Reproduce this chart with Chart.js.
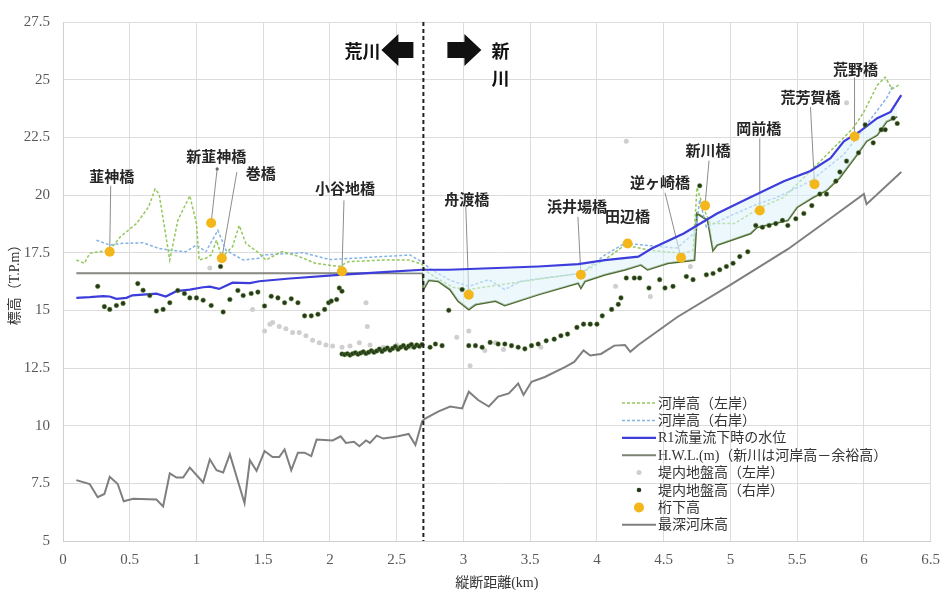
<!DOCTYPE html>
<html>
<head>
<meta charset="utf-8">
<script src="https://cdn.jsdelivr.net/npm/chart.js@4/dist/chart.umd.min.js"></script>
<style>
  html, body { margin: 0; padding: 0; background: #fff; }
  canvas { display: block; }
</style>
</head>
<body>
<canvas id="profile" width="950" height="590"></canvas>
<script>
// 縦断距離(km) / 標高(T.P.m)
const leftBankKm = [0.10, 0.16, 0.20, 0.35, 0.43, 0.55, 0.64, 0.69, 0.72, 0.80, 0.86, 0.95, 1.00, 1.02, 1.07, 1.11, 1.15, 1.19, 1.27, 1.32, 1.37, 1.47, 1.52, 1.64, 1.77, 1.89, 2.07, 2.14, 2.39, 2.59, 2.69,
  2.72, 2.80, 2.92, 3.04, 3.50, 3.88, 4.06, 4.21, 4.40, 4.65, 4.72, 4.75, 4.80, 4.85, 5.03, 5.23, 5.40, 5.60, 5.80, 5.92, 6.00, 6.10, 6.16, 6.21, 6.27];
const leftBankEl = [17.18, 17.04, 17.47, 17.61, 18.19, 18.76, 19.47, 20.26, 20.04, 17.18, 18.90, 19.97, 18.76, 17.18, 17.26, 17.40, 18.04, 17.30, 17.76, 18.68, 17.90, 17.47, 17.18, 17.55, 17.33, 17.04, 16.90, 17.11, 17.18, 17.18, 17.00,
  16.70, 16.40, 16.00, 15.90, 16.30, 16.61, 17.20, 17.83, 17.60, 17.47, 17.60, 20.33, 19.40, 18.76, 18.76, 19.47, 19.90, 21.04, 22.20, 22.90, 23.60, 24.76, 25.11, 24.60, 24.80];

const rightBankKm = [0.25, 0.35, 0.43, 0.60, 0.72, 0.80, 0.92, 1.00, 1.07, 1.16, 1.22, 1.35, 1.47, 1.50, 1.80, 2.00, 2.30, 2.60, 2.69,
  2.75, 2.90, 3.04, 3.19, 3.31, 3.43, 3.60, 3.88, 4.06, 4.21, 4.40, 4.60, 4.74, 4.77, 4.82, 5.00, 5.20, 5.35, 5.60, 5.85, 6.00, 6.17, 6.22];
const rightBankEl = [18.04, 17.83, 17.90, 17.93, 17.68, 17.61, 17.54, 17.83, 17.54, 18.47, 17.61, 17.18, 17.26, 17.40, 17.50, 17.20, 17.30, 17.40, 17.10,
  16.80, 16.30, 16.04, 16.33, 15.90, 16.26, 16.40, 16.60, 17.40, 17.90, 17.80, 17.70, 18.40, 19.80, 18.60, 19.10, 19.60, 19.90, 20.60, 21.76, 22.90, 24.20, 24.76];

const r1Km = [0.10, 0.20, 0.30, 0.35, 0.40, 0.475, 0.52, 0.60, 0.70, 0.77, 0.85, 0.95, 1.05, 1.10, 1.17, 1.27, 1.40, 1.47, 1.70, 2.07, 2.40, 2.69,
  2.89, 3.56, 3.86, 4.06, 4.31, 4.41, 4.65, 4.90, 5.15, 5.40, 5.60, 5.75, 5.85, 5.97, 6.10, 6.20, 6.28];
const r1El = [15.54, 15.57, 15.62, 15.60, 15.50, 15.54, 15.65, 15.68, 15.72, 15.60, 15.83, 15.90, 16.00, 16.03, 15.93, 16.20, 16.18, 16.26, 16.38, 16.54, 16.66, 16.76,
  16.76, 16.90, 17.00, 17.18, 17.33, 17.68, 18.33, 19.20, 19.90, 20.60, 21.04, 21.60, 22.33, 22.76, 23.33, 23.60, 24.33];

const hwlKm = [0.10, 2.695, 2.70, 2.74, 2.81, 2.90, 2.96, 3.04, 3.09, 3.24, 3.31, 3.56, 3.86, 3.88, 3.91, 4.06, 4.21, 4.33, 4.38, 4.53, 4.73, 4.75, 4.83, 4.87, 4.90,
  5.15, 5.20, 5.43, 5.50, 5.62, 5.72, 5.82, 5.95, 6.02, 6.10, 6.17, 6.25];
const hwlEl = [16.61, 16.61, 15.90, 16.30, 16.26, 15.90, 15.40, 15.04, 15.25, 15.40, 15.21, 15.68, 16.18, 15.97, 16.26, 16.54, 16.76, 16.97, 16.76, 17.04, 17.18, 19.20, 18.90, 17.60, 17.83,
  18.33, 18.60, 18.90, 19.47, 19.90, 20.20, 20.76, 21.76, 22.33, 22.60, 23.18, 23.40];

const groundLeftKm = [1.10, 1.42, 1.51, 1.55, 1.57, 1.62, 1.67, 1.72, 1.77, 1.82, 1.87, 1.92, 1.97, 2.02, 2.09, 2.15, 2.22, 2.27, 2.28, 2.30, 2.40, 2.50, 2.60,
  2.95, 3.04, 3.05, 3.16, 3.24, 3.30, 3.58, 4.14, 4.22, 4.40, 4.70, 5.87];
const groundLeftEl = [16.83, 15.04, 14.10, 14.40, 14.47, 14.30, 14.20, 14.04, 14.04, 13.90, 13.70, 13.60, 13.50, 13.45, 13.40, 13.45, 13.60, 15.33, 14.30, 13.50, 13.40, 13.50, 13.40,
  13.83, 14.10, 12.60, 13.26, 13.60, 13.30, 13.40, 16.04, 22.33, 15.60, 16.90, 24.00];

const groundRightKm = [0.26, 0.31, 0.35, 0.40, 0.45, 0.56, 0.60, 0.65, 0.70, 0.75, 0.80, 0.86, 0.91, 0.95, 1.00, 1.05, 1.11, 1.18, 1.20, 1.25, 1.31, 1.35, 1.41, 1.46,
  1.51, 1.56, 1.61, 1.66, 1.71, 1.76, 1.81, 1.86, 1.91, 1.96, 1.99, 2.01, 2.05, 2.07, 2.09,
  2.09, 2.11, 2.13, 2.15, 2.17, 2.19, 2.21, 2.23, 2.25, 2.27, 2.29, 2.31, 2.33, 2.35, 2.37, 2.39, 2.41, 2.43, 2.45, 2.47, 2.49, 2.51, 2.53, 2.55, 2.57, 2.59, 2.61, 2.63, 2.65, 2.67, 2.69,
  2.75, 2.79, 2.84, 2.89, 2.99, 3.04, 3.09, 3.14, 3.20, 3.26, 3.31, 3.36, 3.41, 3.46, 3.51, 3.56, 3.62, 3.68, 3.73, 3.78, 3.85, 3.90, 3.95, 4.00, 4.04, 4.11, 4.16,
  4.18, 4.22, 4.28, 4.32, 4.39, 4.47, 4.51, 4.57, 4.67, 4.72, 4.77, 4.82, 4.87, 4.92, 4.97, 5.02, 5.07, 5.13, 5.19, 5.24, 5.29, 5.34, 5.39,
  5.43, 5.49, 5.55, 5.61, 5.67, 5.72, 5.79, 5.82, 5.87, 5.96, 6.01, 6.07, 6.13, 6.16, 6.22, 6.25];
const groundRightEl = [16.04, 15.16, 15.04, 15.21, 15.30, 16.16, 15.87, 15.64, 14.97, 15.04, 15.33, 15.86, 15.73, 15.54, 15.54, 15.44, 15.21, 16.90, 14.93, 15.47, 15.86, 15.64, 15.73, 15.79,
  15.19, 15.61, 15.54, 15.33, 15.50, 15.33, 14.76, 14.76, 14.83, 15.04, 15.33, 15.40, 15.47, 15.97, 15.83,
  13.11, 13.08, 13.12, 13.06, 13.12, 13.16, 13.10, 13.15, 13.20, 13.13, 13.18, 13.25, 13.18, 13.24, 13.32, 13.22, 13.30, 13.37, 13.27, 13.35, 13.43, 13.31, 13.40, 13.47, 13.36, 13.45, 13.52, 13.40, 13.50, 13.44, 13.52,
  13.40, 13.54, 13.47, 15.00, 15.90, 13.47, 13.47, 13.40, 13.61, 13.54, 13.54, 13.47, 13.40, 13.33, 13.47, 13.54, 13.68, 13.75, 13.90, 13.97, 14.26, 14.40, 14.40, 14.40, 14.76, 15.04, 15.26,
  15.54, 16.40, 16.40, 16.40, 15.97, 16.33, 15.97, 16.04, 16.47, 16.33, 20.40, 16.54, 16.60, 16.76, 16.90, 17.04, 17.33, 17.54, 18.68, 18.60, 18.68, 18.76, 18.90,
  18.68, 18.97, 19.20, 19.54, 20.04, 20.04, 20.60, 21.00, 21.47, 21.83, 23.04, 22.26, 22.83, 22.83, 23.33, 23.10];

const bridgeNames = ['韮神橋', '新韮神橋', '巻橋', '小谷地橋', '舟渡橋', '浜井場橋', '田辺橋', '逆ヶ崎橋', '新川橋', '岡前橋', '荒芳賀橋', '荒野橋'];
const bridgeKm = [0.35, 1.11, 1.19, 2.09, 3.04, 3.88, 4.23, 4.63, 4.81, 5.22, 5.63, 5.93];
const bridgeEl = [17.54, 18.79, 17.26, 16.69, 15.68, 16.54, 17.90, 17.28, 19.54, 19.33, 20.47, 22.54];

const bedKm = [0.10, 0.20, 0.26, 0.31, 0.35, 0.41, 0.455, 0.525, 0.70, 0.75, 0.80, 0.85, 0.90, 0.95, 1.05, 1.10, 1.15, 1.20, 1.25, 1.36, 1.40, 1.45, 1.51, 1.57, 1.62, 1.66, 1.71, 1.76, 1.81, 1.86, 1.90,
  2.02, 2.08, 2.12, 2.18, 2.22, 2.27, 2.30, 2.35, 2.40, 2.465, 2.51, 2.59, 2.64, 2.69, 2.71, 2.81, 2.90, 2.99, 3.04, 3.11, 3.19, 3.26, 3.34, 3.41, 3.45, 3.51, 3.61, 3.76, 3.83, 3.90, 3.95, 4.03, 4.13,
  4.21, 4.25, 4.31, 4.60, 5.00, 5.43, 5.80, 6.00, 6.02, 6.28];
const bedEl = [7.64, 7.47, 6.90, 7.04, 7.78, 7.47, 6.72, 6.83, 6.80, 6.50, 7.93, 7.75, 7.75, 8.18, 7.54, 8.54, 8.07, 7.97, 8.76, 6.64, 8.50, 8.04, 8.90, 8.64, 8.64, 8.97, 8.07, 8.83, 8.83, 8.68, 9.40,
  9.36, 9.54, 9.25, 9.30, 9.11, 9.36, 9.25, 9.57, 9.44, 9.50, 9.54, 9.64, 9.16, 10.18, 10.30, 10.61, 10.83, 10.75, 11.47, 11.11, 10.83, 11.26, 11.40, 11.83, 11.33, 11.90, 12.11, 12.54, 12.76, 13.26, 13.04, 13.11, 13.47,
  13.50, 13.20, 13.50, 14.70, 16.10, 17.65, 19.20, 20.05, 19.60, 21.00];

// 荒川 / 新川 の境界
const boundaryKm = 2.7;

// label offsets from each bridge mark: [textX, textY, leaderX, leaderY] (px)
const bridgeTags = [
  [2, -75, 1, -66],
  [5, -67, 6, -54],
  [39, -85, 15, -86],
  [3, -83, 2, -71],
  [-2, -95, -3, -88],
  [-4, -69, -3, -58],
  [0, -27, null, null],
  [-21, -75, -16, -65],
  [3, -55, 4, -45],
  [-1, -82, 0, -72],
  [-4, -87, -4, -77],
  [1, -67, 0, -59]
];

const pts = (xs, ys) => xs.map((x, i) => ({ x: x, y: ys[i] }));
const tickText = v => String(+v.toFixed(1));

const FONT = '"Liberation Serif", "Noto Sans CJK JP", serif';
const JP = '"Noto Sans CJK JP", sans-serif';
Chart.defaults.font.family = FONT;
Chart.defaults.color = '#595959';

function blockArrow(ctx, tail, tip, cy) {
  const dir = Math.sign(tip - tail);
  const neck = tip - dir * 17;
  ctx.beginPath();
  ctx.moveTo(tail, cy - 8);
  ctx.lineTo(neck, cy - 8);
  ctx.lineTo(neck, cy - 16);
  ctx.lineTo(tip, cy);
  ctx.lineTo(neck, cy + 16);
  ctx.lineTo(neck, cy + 8);
  ctx.lineTo(tail, cy + 8);
  ctx.closePath();
  ctx.fill();
}

const profileDecor = {
  id: 'profileDecor',
  beforeDatasetsDraw(chart) {
    const { ctx } = chart;
    const marks = chart.getDatasetMeta(6).data;
    ctx.save();
    ctx.strokeStyle = '#8c8c8c';
    ctx.fillStyle = '#666';
    ctx.lineWidth = 1;
    bridgeTags.forEach((t, i) => {
      if (t[2] === null) return;
      const p = marks[i];
      ctx.beginPath();
      ctx.moveTo(p.x + t[2], p.y + t[3]);
      ctx.lineTo(p.x, p.y);
      ctx.stroke();
    });
    // small knob on the 新韮神橋 leader
    const k = marks[1];
    ctx.beginPath();
    ctx.arc(k.x + bridgeTags[1][2], k.y + bridgeTags[1][3], 1.6, 0, Math.PI * 2);
    ctx.fill();
    ctx.restore();
  },
  afterDatasetsDraw(chart) {
    const { ctx, chartArea: area, scales } = chart;
    const bx = scales.x.getPixelForValue(boundaryKm);
    ctx.save();

    // boundary line
    ctx.strokeStyle = '#222';
    ctx.lineWidth = 2;
    ctx.setLineDash([4, 3]);
    ctx.beginPath();
    ctx.moveTo(bx, area.top);
    ctx.lineTo(bx, area.bottom);
    ctx.stroke();
    ctx.setLineDash([]);

    // river direction arrows
    ctx.fillStyle = '#111';
    blockArrow(ctx, bx - 10, bx - 42, area.top + 28);
    blockArrow(ctx, bx + 24, bx + 58, area.top + 28);
    ctx.font = 'bold 18px ' + JP;
    ctx.textBaseline = 'middle';
    ctx.textAlign = 'right';
    ctx.fillText('荒川', bx - 43, area.top + 29);
    ctx.textAlign = 'center';
    ctx.fillText('新', bx + 77, area.top + 29);
    ctx.fillText('川', bx + 77, area.top + 56);

    // bridge names
    const marks = chart.getDatasetMeta(6).data;
    ctx.font = 'bold 15px ' + JP;
    ctx.fillStyle = '#262626';
    bridgeNames.forEach((name, i) => {
      const p = marks[i];
      ctx.fillText(name, p.x + bridgeTags[i][0], p.y + bridgeTags[i][1]);
    });

    // legend
    let y = 403;
    ctx.textAlign = 'left';
    ctx.font = '14px ' + FONT;
    chart.data.datasets.forEach(ds => {
      if (ds.showLine === false) {
        ctx.fillStyle = ds.pointBackgroundColor;
        ctx.beginPath();
        ctx.arc(639, y, ds.pointRadius, 0, Math.PI * 2);
        ctx.fill();
      } else {
        ctx.strokeStyle = ds.legendColor || ds.borderColor;
        ctx.lineWidth = ds.borderWidth;
        ctx.setLineDash(ds.borderDash || []);
        ctx.beginPath();
        ctx.moveTo(622, y);
        ctx.lineTo(656, y);
        ctx.stroke();
        ctx.setLineDash([]);
      }
      ctx.fillStyle = '#333';
      ctx.fillText(ds.label, 658, y + 1);
      y += 17.4;
    });
    ctx.restore();
  }
};

const chart = new Chart(document.getElementById('profile'), {
  type: 'line',
  data: {
    datasets: [
      {
        label: '河岸高（左岸）',
        data: pts(leftBankKm, leftBankEl),
        borderColor: '#93c85c',
        borderWidth: 1.5,
        borderDash: [3, 2],
        pointRadius: 0,
        tension: 0,
        order: 4
      },
      {
        label: '河岸高（右岸）',
        data: pts(rightBankKm, rightBankEl),
        borderColor: '#86b3e6',
        borderWidth: 1.5,
        borderDash: [3, 2],
        pointRadius: 0,
        order: 5
      },
      {
        label: 'R1流量流下時の水位',
        data: pts(r1Km, r1El),
        borderColor: '#3d3ddc',
        borderWidth: 2.2,
        pointRadius: 0,
        fill: { target: 3, above: 'rgba(222, 243, 251, 0.55)', below: 'rgba(0, 0, 0, 0)' },
        order: 3
      },
      {
        label: 'H.W.L.(m)（新川は河岸高－余裕高）',
        data: pts(hwlKm, hwlEl),
        borderColor: '#4c6a2c',
        legendColor: '#7b8470',
        borderWidth: 2,
        pointRadius: 0,
        segment: {
          borderColor: c => (c.p0.parsed.x < boundaryKm - 0.01 ? '#808078' : '#4c6a2c')
        },
        order: 6
      },
      {
        label: '堤内地盤高（左岸）',
        data: pts(groundLeftKm, groundLeftEl),
        showLine: false,
        pointRadius: 2.5,
        pointBackgroundColor: '#cfcfcf',
        pointBorderWidth: 0,
        order: 7
      },
      {
        label: '堤内地盤高（右岸）',
        data: pts(groundRightKm, groundRightEl),
        showLine: false,
        pointRadius: 2.3,
        pointBackgroundColor: '#27381b',
        pointBorderColor: 'rgba(90, 140, 50, 0.6)',
        pointBorderWidth: 0.8,
        order: 1
      },
      {
        label: '桁下高',
        data: pts(bridgeKm, bridgeEl),
        showLine: false,
        pointRadius: 5,
        pointBackgroundColor: '#f4b71b',
        pointBorderWidth: 0,
        order: 0
      },
      {
        label: '最深河床高',
        data: pts(bedKm, bedEl),
        borderColor: '#7f7f7f',
        borderWidth: 2,
        pointRadius: 0,
        order: 8
      }
    ]
  },
  options: {
    responsive: false,
    animation: false,
    layout: { padding: { top: 16, right: 16, left: 0, bottom: 0 } },
    plugins: {
      legend: { display: false },
      tooltip: { enabled: false }
    },
    scales: {
      x: {
        type: 'linear',
        min: 0,
        max: 6.5,
        ticks: { stepSize: 0.5, padding: 10, font: { size: 15 }, callback: tickText },
        grid: { color: '#dcdcdc', drawTicks: false },
        border: { color: '#d0d0d0' },
        title: { display: true, text: '縦断距離(km)', color: '#333', font: { size: 14, lineHeight: 1 }, padding: { top: 0, bottom: 0 } },
        afterFit: s => { s.height = 49; }
      },
      y: {
        min: 5,
        max: 27.5,
        ticks: { stepSize: 2.5, padding: 13, font: { size: 15 }, callback: tickText },
        grid: { color: '#dcdcdc', drawTicks: false },
        border: { color: '#d0d0d0' },
        title: { display: true, text: '標高（T.P.m）', color: '#333', font: { size: 14 }, padding: { top: 7, bottom: 0 } },
        afterFit: s => { s.width = 63; }
      }
    }
  },
  plugins: [profileDecor]
});
</script>
</body>
</html>
